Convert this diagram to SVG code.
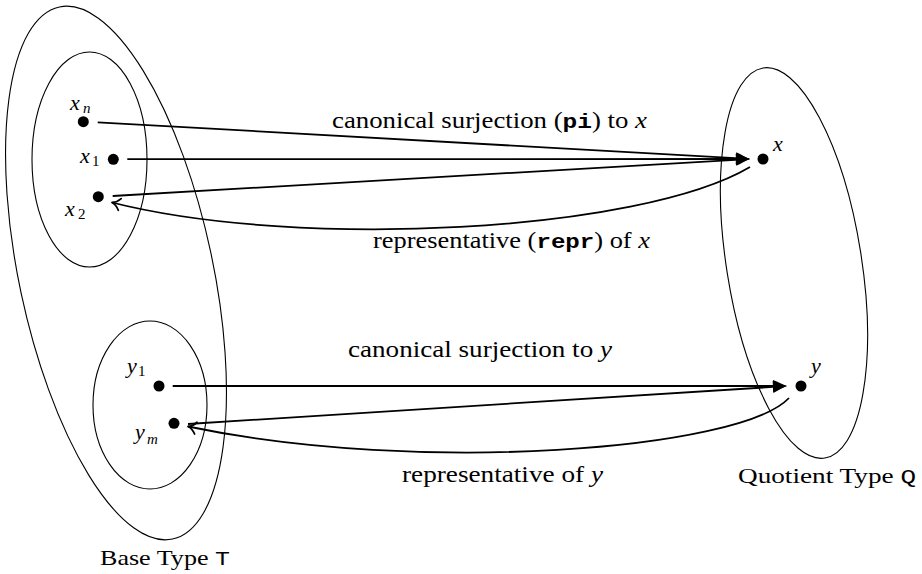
<svg xmlns="http://www.w3.org/2000/svg" width="922" height="574" viewBox="0 0 922 574">
<style>
.set{fill:none;stroke:#000;stroke-width:1.1}
.arr{fill:none;stroke:#000;stroke-width:1.8}
.dot{fill:#000}
text{fill:#000}
.sub{font-style:normal;font-size:15px}
.subi{font-size:15px}
.tt{font-weight:bold}
.it{font-style:italic}
</style>
<defs>
<marker id="fill" markerUnits="userSpaceOnUse" viewBox="-10 -10 20 20" markerWidth="20" markerHeight="20" refX="0" refY="0" orient="auto" overflow="visible">
<path d="M6,0 C2,-1.2 -3,-4 -8,-6 L-8,6 C-3,4 2,1.2 6,0 Z" fill="#000"/>
</marker>
<marker id="open" markerUnits="userSpaceOnUse" viewBox="-10 -10 20 20" markerWidth="20" markerHeight="20" refX="0" refY="0" orient="auto" overflow="visible">
<path d="M-8,-6 C-5.5,-2.4 -2.7,-0.6 0,0 C-2.7,0.6 -5.5,2.4 -8,6" fill="none" stroke="#000" stroke-width="1.8" stroke-linecap="round" stroke-linejoin="round"/>
</marker>
</defs>

<g id="baseType">
<ellipse class="set" cx="116" cy="273" rx="97" ry="272" transform="rotate(-12 116 273)"/>
<text font-family="Liberation Serif" font-size="22" x="100" y="565" textLength="130" lengthAdjust="spacingAndGlyphs">Base Type <tspan font-family="Liberation Mono" font-size="21">T</tspan></text>
</g>

<g id="xClass">
<ellipse class="set" cx="89.5" cy="159.5" rx="57.5" ry="107.5"/>
</g>

<g id="yClass">
<ellipse class="set" cx="150" cy="405" rx="57" ry="84"/>
</g>

<g id="quotientType">
<ellipse class="set" cx="794" cy="263" rx="67.5" ry="197.5" transform="rotate(-9 794 263)"/>
<text font-family="Liberation Serif" font-size="22" x="738" y="483" textLength="178" lengthAdjust="spacingAndGlyphs">Quotient Type <tspan font-family="Liberation Mono" font-size="21">Q</tspan></text>
</g>

<g id="xn">
<circle class="dot" cx="83.3" cy="121.7" r="5.5"/>
<text font-family="Liberation Serif" font-style="italic" font-size="22" x="70" y="109.5">x<tspan class="subi" x="83" y="113">n</tspan></text>
</g>
<g id="x1">
<circle class="dot" cx="113.3" cy="159.3" r="5.5"/>
<text font-family="Liberation Serif" font-style="italic" font-size="22" x="80" y="162.5">x<tspan class="sub" x="92" y="165.5">1</tspan></text>
</g>
<g id="x2">
<circle class="dot" cx="98.3" cy="196.7" r="5.5"/>
<text font-family="Liberation Serif" font-style="italic" font-size="22" x="65" y="216">x<tspan class="sub" x="78" y="219">2</tspan></text>
</g>
<g id="x">
<circle class="dot" cx="763" cy="159" r="5.5"/>
<text font-family="Liberation Serif" font-style="italic" font-size="22" x="773" y="151">x</text>
</g>

<g id="y1">
<circle class="dot" cx="159" cy="386" r="5.5"/>
<text font-family="Liberation Serif" font-style="italic" font-size="22" x="127" y="372.5">y<tspan class="sub" x="138" y="375.5">1</tspan></text>
</g>
<g id="ym">
<circle class="dot" cx="174" cy="423.3" r="5.5"/>
<text font-family="Liberation Serif" font-style="italic" font-size="22" x="135" y="439">y<tspan class="subi" x="147" y="443.5">m</tspan></text>
</g>
<g id="y">
<circle class="dot" cx="801" cy="386" r="5.5"/>
<text font-family="Liberation Serif" font-style="italic" font-size="22" x="811" y="372.5">y</text>
</g>

<g id="connectors">
<line class="arr" x1="97.7" y1="122.3" x2="744" y2="158.7" marker-end="url(#fill)"/>
<line class="arr" x1="127.3" y1="159.2" x2="744" y2="159" marker-end="url(#fill)"/>
<line class="arr" x1="112.7" y1="196" x2="744" y2="159.35" marker-end="url(#fill)"/>
<path class="arr" d="M750,167 C640,232 300,250 112,202.5" marker-end="url(#open)"/>
<line class="arr" x1="172.7" y1="386" x2="781" y2="386" marker-end="url(#fill)"/>
<line class="arr" x1="188" y1="424" x2="781" y2="386.4" marker-end="url(#fill)"/>
<path class="arr" d="M789,398 C740,450 420,475 188,426.5" marker-end="url(#open)"/>
</g>

<g id="edgeLabels">
<text font-family="Liberation Serif" font-size="23" x="332" y="128" textLength="315" lengthAdjust="spacingAndGlyphs">canonical surjection (<tspan class="tt" font-family="Liberation Mono" font-size="21">pi</tspan>) to <tspan class="it">x</tspan></text>
<text font-family="Liberation Serif" font-size="23" x="373" y="248" textLength="277" lengthAdjust="spacingAndGlyphs">representative (<tspan class="tt" font-family="Liberation Mono" font-size="21">repr</tspan>) of <tspan class="it">x</tspan></text>
<text font-family="Liberation Serif" font-size="23" x="348" y="357" textLength="264" lengthAdjust="spacingAndGlyphs">canonical surjection to <tspan class="it">y</tspan></text>
<text font-family="Liberation Serif" font-size="23" x="402" y="482" textLength="201" lengthAdjust="spacingAndGlyphs">representative of <tspan class="it">y</tspan></text>
</g>
</svg>
